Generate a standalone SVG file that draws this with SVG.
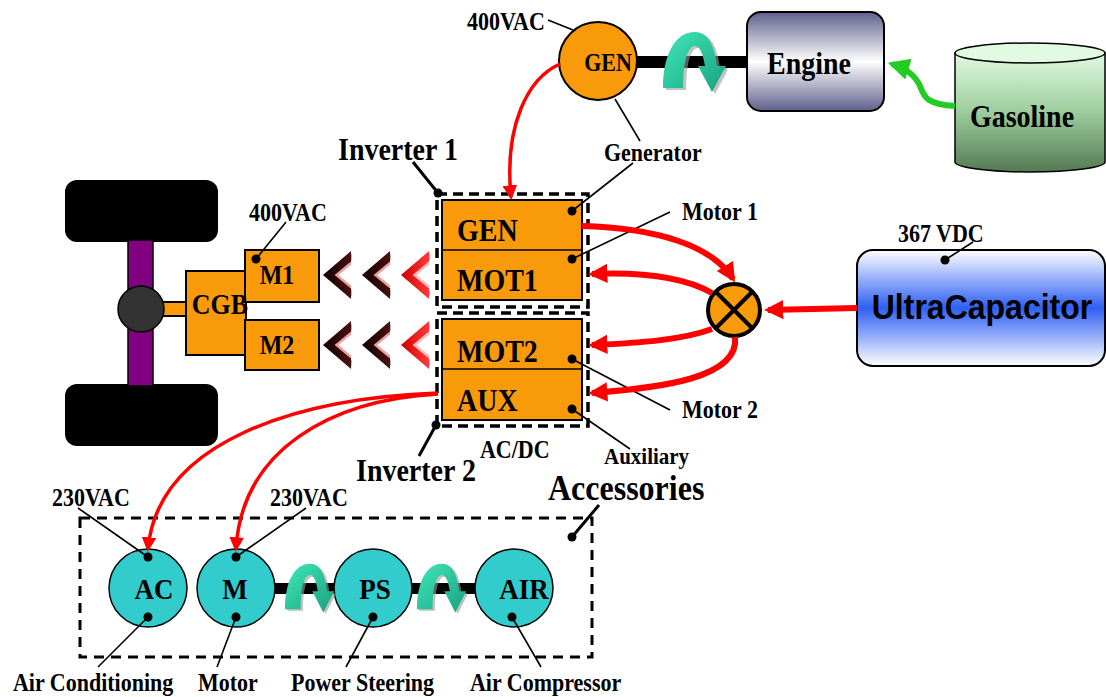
<svg xmlns="http://www.w3.org/2000/svg" width="1106" height="697" viewBox="0 0 1106 697">
  <defs>
    <style>
      text { font-family: "Liberation Serif", "Times New Roman", serif; font-weight: bold; fill: #000;
             transform-box: fill-box; transform-origin: center; transform: scaleY(1.12); }
      text.sans { font-family: "Liberation Sans", Arial, sans-serif; }
      .lbl { font-size: 22px; }
      .big { font-size: 28px; }
      .box { fill: #f99a0a; stroke: #000; stroke-width: 2; }
      .teal { fill: #33cccc; stroke: #000; stroke-width: 1.5; }
      .lead { stroke: #000; stroke-width: 1.6; fill: none; }
      .leadt { stroke: #000; stroke-width: 3; fill: none; }
      .dot { fill: #000; }
      .dash { fill: none; stroke: #000; stroke-width: 3.5; stroke-dasharray: 10 6; }
      .red { fill: none; stroke: #ff0000; stroke-linecap: butt; }
      .thick { stroke-width: 6; marker-end: url(#headBig); }
      .thin { stroke-width: 3.5; marker-end: url(#headSmall); }
    </style>
    <marker id="headBig" viewBox="0 0 10 10" refX="8" refY="5" markerWidth="3.2" markerHeight="3.4" orient="auto">
      <path d="M0,0 L10,5 L0,10 Z" fill="#ff0000"/>
    </marker>
    <marker id="headSmall" viewBox="0 0 10 10" refX="8" refY="5" markerWidth="4.2" markerHeight="4.2" orient="auto">
      <path d="M0,0 L10,5 L0,10 Z" fill="#ff0000"/>
    </marker>
    <marker id="headGreen" viewBox="0 0 10 10" refX="8" refY="5" markerWidth="3.6" markerHeight="3.8" orient="auto">
      <path d="M0,0 L10,5 L0,10 Z" fill="#22cc22"/>
    </marker>
    <linearGradient id="engineFill" x1="0" y1="0" x2="0" y2="1">
      <stop offset="0" stop-color="#5f5f8c"/>
      <stop offset="0.5" stop-color="#ffffff"/>
      <stop offset="1" stop-color="#5f5f8c"/>
    </linearGradient>
    <linearGradient id="gasFill" x1="0" y1="0" x2="0" y2="1">
      <stop offset="0" stop-color="#e2fae2"/>
      <stop offset="0.5" stop-color="#9ccc9c"/>
      <stop offset="1" stop-color="#557a55"/>
    </linearGradient>
    <linearGradient id="capFill" x1="0" y1="0" x2="0" y2="1">
      <stop offset="0" stop-color="#ffffff"/>
      <stop offset="0.5" stop-color="#2f5ff2"/>
      <stop offset="1" stop-color="#ffffff"/>
    </linearGradient>
    <linearGradient id="turnFill" x1="0" y1="0" x2="1" y2="1">
      <stop offset="0" stop-color="#40e8b8"/>
      <stop offset="1" stop-color="#18a080"/>
    </linearGradient>
    <linearGradient id="chevDark" x1="0" y1="0" x2="1" y2="0">
      <stop offset="0" stop-color="#100000"/>
      <stop offset="1" stop-color="#4a1010"/>
    </linearGradient>
    <linearGradient id="chevRed" x1="0" y1="0" x2="1" y2="0">
      <stop offset="0" stop-color="#d00000"/>
      <stop offset="1" stop-color="#ff3a3a"/>
    </linearGradient>
    <!-- curved rotation arrow -->
    <symbol id="turn" viewBox="0 0 64 64" preserveAspectRatio="none">
      <path d="M3,60 C3,27 15,4 35,4 C49,4 55,20 57,38 L66,38 L52,64 L38,38 L45,38 C43,26 40,18 35,18 C27,18 23,36 23,60 Z" fill="#9a9a9a" opacity="0.6"/>
      <path d="M0,58 C0,25 12,2 32,2 C46,2 52,18 54,36 L63,36 L49,62 L35,36 L42,36 C40,24 37,16 32,16 C24,16 20,34 20,58 Z" fill="url(#turnFill)"/>
    </symbol>
    <!-- bevelled chevrons -->
    <symbol id="chevD" viewBox="0 0 30 50" preserveAspectRatio="none">
      <polygon points="31,3 2,25 31,47 31,41 11,25 31,9" fill="#bbbbbb"/>
      <polygon points="29,1 0,25 29,49 29,38 13,25 29,12" fill="url(#chevDark)"/>
      <polyline points="29,13 14,25 29,37" fill="none" stroke="#e8a0a0" stroke-width="2.5"/>
    </symbol>
    <symbol id="chevR" viewBox="0 0 30 50" preserveAspectRatio="none">
      <polygon points="31,3 2,25 31,47 31,41 11,25 31,9" fill="#bbbbbb"/>
      <polygon points="29,1 0,25 29,49 29,38 13,25 29,12" fill="url(#chevRed)"/>
      <polyline points="29,13 14,25 29,37" fill="none" stroke="#ffb8b8" stroke-width="2.5"/>
    </symbol>
  </defs>

  <rect width="1106" height="697" fill="#ffffff"/>

  <!-- generator shaft to engine -->
  <g id="gen-shaft">
    <rect x="636" y="56" width="113" height="12" fill="#000"/>
    <use href="#turn" x="663" y="30" width="64" height="64"/>
  </g>

  <g id="generator">
    <circle cx="598" cy="61" r="39" fill="#f99a0a" stroke="#000" stroke-width="2"/>
    <text x="608" y="70" font-size="22" text-anchor="middle">GEN</text>
    <text class="lbl" x="467" y="29">400VAC</text>
    <line class="lead" x1="548" y1="20" x2="573" y2="30"/>
    <line class="lead" x1="615" y1="99" x2="640" y2="141"/>
    <text class="lbl" x="604" y="160">Generator</text>
  </g>

  <g id="engine">
    <rect x="747" y="12" width="137" height="99" rx="14" fill="url(#engineFill)" stroke="#000" stroke-width="2"/>
    <text class="big" x="809" y="73" text-anchor="middle">Engine</text>
  </g>

  <g id="gasoline">
    <path d="M955,53 L955,162 A75,10 0 0 0 1105,162 L1105,53 Z" fill="url(#gasFill)" stroke="#000" stroke-width="1.5"/>
    <ellipse cx="1030" cy="53" rx="75" ry="10" fill="#e2fae2" stroke="#000" stroke-width="1.5"/>
    <text class="big" x="1022" y="126" text-anchor="middle">Gasoline</text>
  </g>

  <g id="drive-axle">
    <rect x="65" y="180" width="153" height="62" rx="12" fill="#000"/>
    <rect x="65" y="384" width="153" height="62" rx="12" fill="#000"/>
    <rect x="128" y="240" width="25" height="146" fill="#800080" stroke="#000" stroke-width="1.5"/>
    <rect x="160" y="302" width="28" height="14" class="box" stroke-width="1.5"/>
    <circle cx="141" cy="309" r="23" fill="#333" stroke="#000" stroke-width="1.5"/>
  </g>

  <g id="cgb">
    <rect x="186" y="271" width="60" height="84" class="box" stroke-width="1.5"/>
  </g>
  <g id="m1">
    <rect x="245" y="250" width="74" height="52" class="box" stroke-width="1.5"/>
    <text x="277" y="283" font-size="24" text-anchor="middle">M1</text>
    <circle class="dot" cx="256" cy="259" r="4.5"/>
    <line class="lead" x1="256" y1="259" x2="286" y2="222"/>
    <text class="lbl" x="249" y="220">400VAC</text>
  </g>
  <g id="m2">
    <rect x="245" y="320" width="74" height="50" class="box" stroke-width="1.5"/>
    <text x="277" y="353" font-size="24" text-anchor="middle">M2</text>
  </g>
  <text x="220" y="313" font-size="26" text-anchor="middle">CGB</text>

  <g id="chevrons">
    <use href="#chevD" x="323" y="250" width="29" height="50"/>
    <use href="#chevD" x="362" y="250" width="29" height="50"/>
    <use href="#chevR" x="401" y="250" width="29" height="50"/>
    <use href="#chevD" x="323" y="320" width="29" height="50"/>
    <use href="#chevD" x="362" y="320" width="29" height="50"/>
    <use href="#chevR" x="401" y="320" width="29" height="50"/>
  </g>

  <g id="inverter-1">
    <rect class="dash" x="437" y="194" width="151" height="113"/>
    <rect x="442" y="200" width="140" height="100" class="box"/>
    <line x1="442" y1="250" x2="582" y2="250" stroke="#000" stroke-width="1.5"/>
    <text class="big" x="457" y="240">GEN</text>
    <text class="big" x="457" y="290">MOT1</text>
    <circle class="dot" cx="572" cy="211" r="4.5"/>
    <circle class="dot" cx="572" cy="259" r="4.5"/>
    <line class="lead" x1="572" y1="211" x2="633" y2="163"/>
    <line class="lead" x1="572" y1="259" x2="670" y2="212"/>
    <circle class="dot" cx="438" cy="193" r="4.5"/>
    <line class="leadt" x1="438" y1="193" x2="413" y2="162"/>
    <text class="big" x="338" y="159">Inverter 1</text>
    <text class="lbl" x="682" y="219">Motor 1</text>
  </g>

  <g id="inverter-2">
    <rect class="dash" x="437" y="313" width="151" height="113"/>
    <rect x="442" y="319" width="140" height="101" class="box"/>
    <line x1="442" y1="369" x2="582" y2="369" stroke="#000" stroke-width="1.5"/>
    <text class="big" x="457" y="361">MOT2</text>
    <text class="big" x="457" y="410">AUX</text>
    <circle class="dot" cx="572" cy="359" r="4.5"/>
    <circle class="dot" cx="572" cy="409" r="4.5"/>
    <line class="lead" x1="572" y1="359" x2="670" y2="410"/>
    <line class="lead" x1="572" y1="409" x2="630" y2="449"/>
    <circle class="dot" cx="436" cy="425" r="4.5"/>
    <line class="leadt" x1="436" y1="425" x2="419" y2="456"/>
    <text class="big" x="356" y="480">Inverter 2</text>
    <text class="lbl" x="682" y="417">Motor 2</text>
    <text class="lbl" x="480" y="457">AC/DC</text>
    <text x="604" y="463" font-size="21">Auxiliary</text>
  </g>

  <g id="combiner">
    <circle cx="734" cy="310" r="26" fill="#f99a0a" stroke="#000" stroke-width="4"/>
    <line x1="716" y1="292" x2="752" y2="328" stroke="#000" stroke-width="4"/>
    <line x1="752" y1="292" x2="716" y2="328" stroke="#000" stroke-width="4"/>
  </g>

  <g id="ultracapacitor">
    <rect x="857" y="250" width="248" height="116" rx="16" fill="url(#capFill)" stroke="#000" stroke-width="2"/>
    <text class="sans" x="982" y="318" font-size="32" text-anchor="middle">UltraCapacitor</text>
    <circle class="dot" cx="945" cy="260" r="4.5"/>
    <line class="lead" x1="945" y1="260" x2="973" y2="242"/>
    <text class="lbl" x="898" y="241">367 VDC</text>
  </g>

  <g id="accessories">
    <rect x="80" y="518" width="512" height="139" fill="none" stroke="#000" stroke-width="3" stroke-dasharray="10 7"/>
    <text x="548" y="499" font-size="32">Accessories</text>
    <circle class="dot" cx="572" cy="537" r="4.5"/>
    <line class="leadt" x1="572" y1="537" x2="599" y2="505"/>
    <rect x="270" y="583" width="70" height="11" fill="#000"/>
    <rect x="408" y="583" width="70" height="11" fill="#000"/>
  </g>

  <g id="ac">
    <circle class="teal" cx="148" cy="588" r="39"/>
    <text x="154" y="598" font-size="27" text-anchor="middle">AC</text>
    <circle class="dot" cx="148" cy="557" r="4.5"/>
    <circle class="dot" cx="148" cy="617" r="4.5"/>
    <line class="lead" x1="148" y1="557" x2="78" y2="508"/>
    <line class="lead" x1="148" y1="617" x2="98" y2="667"/>
    <text class="lbl" x="52" y="505">230VAC</text>
    <text class="lbl" x="13" y="690">Air Conditioning</text>
  </g>
  <g id="motor">
    <circle class="teal" cx="236" cy="588" r="39"/>
    <text x="235" y="598" font-size="27" text-anchor="middle">M</text>
    <circle class="dot" cx="236" cy="557" r="4.5"/>
    <circle class="dot" cx="236" cy="617" r="4.5"/>
    <line class="lead" x1="236" y1="557" x2="306" y2="508"/>
    <line class="lead" x1="236" y1="617" x2="217" y2="667"/>
    <text class="lbl" x="270" y="505">230VAC</text>
    <text class="lbl" x="198" y="690">Motor</text>
  </g>
  <g id="power-steering">
    <circle class="teal" cx="373" cy="588" r="39"/>
    <text x="375" y="598" font-size="27" text-anchor="middle">PS</text>
    <circle class="dot" cx="373" cy="617" r="4.5"/>
    <line class="lead" x1="373" y1="617" x2="346" y2="667"/>
    <text class="lbl" x="291" y="690">Power Steering</text>
  </g>
  <g id="air-compressor">
    <circle class="teal" cx="514" cy="588" r="39"/>
    <text x="524" y="598" font-size="27" text-anchor="middle">AIR</text>
    <circle class="dot" cx="512" cy="617" r="4.5"/>
    <line class="lead" x1="512" y1="617" x2="541" y2="667"/>
    <text class="lbl" x="470" y="690">Air Compressor</text>
  </g>
  <g id="acc-drives">
    <use href="#turn" x="285" y="562" width="50" height="52"/>
    <use href="#turn" x="417" y="562" width="50" height="52"/>
  </g>

  <g id="connectors">
    <path class="red thin" d="M560,64 C528,78 504,125 511,197"/>
    <path class="red thick" d="M582,226 C655,228 712,245 733,279"/>
    <path class="red thick" d="M712,293 C682,276 640,272 592,274"/>
    <path class="red thick" d="M712,329 C682,340 640,343 592,345"/>
    <path class="red thick" d="M735,337 C740,378 660,388 592,393"/>
    <path class="red thick" d="M857,308 L768,310"/>
    <path class="red thin" d="M438,393 C300,398 158,440 148,549"/>
    <path class="red thin" d="M438,394 C330,400 242,450 236,549"/>
    <path d="M955,106 C925,104 924,96 920,86 C915,75 905,68 892,64" fill="none" stroke="#22cc22" stroke-width="6" marker-end="url(#headGreen)"/>
  </g>
</svg>
